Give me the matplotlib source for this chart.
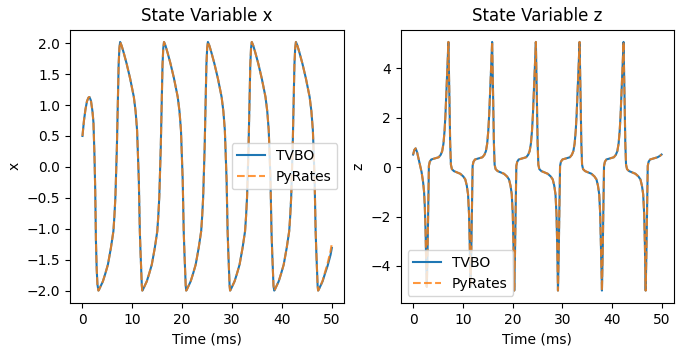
#!/usr/bin/env python3
"""TVBO vs PyRates comparison: state variables x and z over time."""

import matplotlib
matplotlib.use("Agg")
import matplotlib.pyplot as plt

# values
time_x = [
    0.0, 0.3, 0.6, 0.9, 1.2, 1.4, 1.7, 2.0, 2.2, 2.4, 2.55, 2.7, 2.85, 3.0, 3.2,
    3.35, 3.7, 4.1, 4.6, 5.1, 5.7, 6.2, 6.4, 6.6, 6.75, 6.9, 7.1, 7.25, 7.4, 7.55,
    7.85, 8.25, 8.85, 9.55, 10.3, 10.65, 10.95, 11.15, 11.3, 11.5, 11.65, 11.8, 11.9, 12.0,
    12.15, 12.5, 12.9, 13.4, 13.9, 14.5, 15.0, 15.2, 15.4, 15.55, 15.7, 15.9, 16.05, 16.2, 16.35,
    16.65, 17.05, 17.65, 18.35, 19.1, 19.45, 19.75, 19.95, 20.1, 20.3, 20.45, 20.6, 20.7, 20.8,
    20.95, 21.3, 21.7, 22.2, 22.7, 23.3, 23.8, 24.0, 24.2, 24.35, 24.5, 24.7, 24.85, 25.0, 25.15,
    25.45, 25.85, 26.45, 27.15, 27.9, 28.25, 28.55, 28.75, 28.9, 29.1, 29.25, 29.4, 29.5, 29.6,
    29.75, 30.1, 30.5, 31.0, 31.5, 32.1, 32.6, 32.8, 33.0, 33.15, 33.3, 33.5, 33.65, 33.8, 33.95,
    34.25, 34.65, 35.25, 35.95, 36.7, 37.05, 37.35, 37.55, 37.7, 37.9, 38.05, 38.2, 38.3, 38.45,
    38.6, 38.95, 39.35, 39.85, 40.35, 40.95, 41.45, 41.65, 41.85, 42.0, 42.15, 42.35, 42.5, 42.65, 42.8,
    43.1, 43.5, 44.1, 44.8, 45.55, 45.9, 46.2, 46.4, 46.55, 46.75, 46.9, 47.05, 47.15, 47.25,
    47.4, 47.75, 48.15, 48.65, 49.15, 49.75, 50.0,
]
tvbo_x = [
    0.50, 0.75, 0.93, 1.06, 1.12, 1.13, 1.07, 0.90, 0.72, 0.20, -0.35, -1.20, -1.65, -1.90, -2.00,
    -1.98, -1.92, -1.85, -1.72, -1.58, -1.31, -1.04, -0.80, -0.49, -0.10, 0.32, 1.13, 1.65, 1.92, 2.02,
    1.96, 1.85, 1.67, 1.43, 1.13, 0.90, 0.59, 0.15, -0.22, -1.04, -1.40, -1.69, -1.92, -2.00,
    -1.98, -1.92, -1.85, -1.72, -1.58, -1.31, -1.04, -0.80, -0.49, -0.10, 0.32, 1.13, 1.65, 1.92, 2.02,
    1.96, 1.85, 1.67, 1.43, 1.13, 0.90, 0.59, 0.15, -0.22, -1.04, -1.40, -1.69, -1.92, -2.00,
    -1.98, -1.92, -1.85, -1.72, -1.58, -1.31, -1.04, -0.80, -0.49, -0.10, 0.32, 1.13, 1.65, 1.92, 2.02,
    1.96, 1.85, 1.67, 1.43, 1.13, 0.90, 0.59, 0.15, -0.22, -1.04, -1.40, -1.69, -1.92, -2.00,
    -1.98, -1.92, -1.85, -1.72, -1.58, -1.31, -1.04, -0.80, -0.49, -0.10, 0.32, 1.13, 1.65, 1.92, 2.02,
    1.96, 1.85, 1.67, 1.43, 1.13, 0.90, 0.59, 0.15, -0.22, -1.04, -1.40, -1.69, -1.92, -2.00,
    -1.98, -1.92, -1.85, -1.72, -1.58, -1.31, -1.04, -0.80, -0.49, -0.10, 0.32, 1.13, 1.65, 1.92, 2.02,
    1.96, 1.85, 1.67, 1.43, 1.13, 0.90, 0.59, 0.15, -0.22, -1.04, -1.40, -1.69, -1.92, -2.00,
    -1.98, -1.92, -1.85, -1.72, -1.60, -1.42, -1.31,
]
# PyRates trace overlaps TVBO except at the very end
pyrates_x = tvbo_x[:-5] + [-1.84, -1.70, -1.56, -1.36, -1.24]

time_z = [
    0.0, 0.25, 0.5, 0.8, 1.3, 1.7, 2.0, 2.2, 2.35, 2.5, 2.62, 2.75,
    2.9, 3.05, 3.17, 3.35, 3.65, 5.15, 5.55, 5.85, 6.1, 6.32, 6.5, 6.65, 6.8, 6.92, 7.1,
    7.22, 7.32, 7.45, 7.6, 7.8, 8.2, 9.5, 10.1, 10.5, 10.8, 11.05, 11.25, 11.4, 11.55,
    11.7, 11.85, 11.97, 12.15, 12.45, 13.95, 14.35, 14.65, 14.9, 15.12, 15.3, 15.45, 15.6, 15.72, 15.9,
    16.02, 16.12, 16.25, 16.4, 16.6, 17.0, 18.3, 18.9, 19.3, 19.6, 19.85, 20.05, 20.2, 20.35,
    20.5, 20.65, 20.77, 20.95, 21.25, 22.75, 23.15, 23.45, 23.7, 23.92, 24.1, 24.25, 24.4, 24.52, 24.7,
    24.82, 24.92, 25.05, 25.2, 25.4, 25.8, 27.1, 27.7, 28.1, 28.4, 28.65, 28.85, 29.0, 29.15,
    29.3, 29.45, 29.57, 29.75, 30.05, 31.55, 31.95, 32.25, 32.5, 32.72, 32.9, 33.05, 33.2, 33.32, 33.5,
    33.62, 33.72, 33.85, 34.0, 34.2, 34.6, 35.9, 36.5, 36.9, 37.2, 37.45, 37.65, 37.8, 38.0,
    38.15, 38.3, 38.42, 38.6, 38.9, 40.4, 40.8, 41.1, 41.35, 41.57, 41.75, 41.9, 42.05, 42.17, 42.35,
    42.47, 42.57, 42.7, 42.85, 43.05, 43.45, 44.75, 45.35, 45.75, 46.05, 46.3, 46.5, 46.65, 46.8,
    46.95, 47.1, 47.22, 47.4, 47.7, 48.5, 49.2, 49.7, 50.0,
]
tvbo_z = [
    0.51, 0.70, 0.76, 0.60, 0.15, -0.20, -0.60, -1.00, -1.60, -2.60, -3.80, -4.85,
    -3.50, -1.50, 0.05, 0.22, 0.31, 0.40, 0.50, 0.65, 0.95, 1.46, 2.10, 2.81, 3.50, 4.16, 5.07,
    3.80, 2.60, 1.00, 0.10, -0.08, -0.16, -0.27, -0.38, -0.50, -0.75, -1.10, -1.90, -3.20, -4.85,
    -3.50, -1.50, 0.05, 0.22, 0.31, 0.40, 0.50, 0.65, 0.95, 1.46, 2.10, 2.81, 3.50, 4.16, 5.07,
    3.80, 2.60, 1.00, 0.10, -0.08, -0.16, -0.27, -0.38, -0.50, -0.75, -1.10, -1.90, -3.20, -5.00,
    -3.50, -1.50, 0.05, 0.22, 0.31, 0.40, 0.50, 0.65, 0.95, 1.46, 2.10, 2.81, 3.50, 4.16, 5.07,
    3.80, 2.60, 1.00, 0.10, -0.08, -0.16, -0.27, -0.38, -0.50, -0.75, -1.10, -1.90, -3.20, -5.00,
    -3.50, -1.50, 0.05, 0.22, 0.31, 0.40, 0.50, 0.65, 0.95, 1.46, 2.10, 2.81, 3.50, 4.16, 5.07,
    3.80, 2.60, 1.00, 0.10, -0.08, -0.16, -0.27, -0.38, -0.50, -0.75, -1.10, -1.90, -3.20, -5.00,
    -3.50, -1.50, 0.05, 0.22, 0.31, 0.40, 0.50, 0.65, 0.95, 1.46, 2.10, 2.81, 3.50, 4.16, 5.07,
    3.80, 2.60, 1.00, 0.10, -0.08, -0.16, -0.27, -0.38, -0.50, -0.75, -1.10, -1.90, -3.20, -5.00,
    -3.50, -1.50, 0.05, 0.22, 0.31, 0.36, 0.40, 0.46, 0.51,
]
pyrates_z = list(tvbo_z)

series_labels = ["TVBO", "PyRates"]


def main():
    fig = plt.figure(figsize=(6.83, 3.53), dpi=100)
    ax1 = fig.add_axes([0.1025, 0.1416, 0.4016, 0.7748])
    ax2 = fig.add_axes([0.5867, 0.1416, 0.4001, 0.7748])

    ax1.plot(time_x, tvbo_x, color="#1f77b4", lw=1.5, label=series_labels[0])
    ax1.plot(time_x, pyrates_x, color="#ff7f0e", lw=1.5, ls="--", alpha=0.8,
             label=series_labels[1])
    ax1.set_title("State Variable x")
    ax1.set_xlabel("Time (ms)")
    ax1.set_ylabel("x")
    ax1.legend(loc="center right")

    ax2.plot(time_z, tvbo_z, color="#1f77b4", lw=1.5, label=series_labels[0])
    ax2.plot(time_z, pyrates_z, color="#ff7f0e", lw=1.5, ls="--", alpha=0.8,
             label=series_labels[1])
    ax2.set_title("State Variable z")
    ax2.set_xlabel("Time (ms)")
    ax2.set_ylabel("z")
    ax2.legend(loc="lower left")

    fig.savefig("out.png", dpi=100)


if __name__ == "__main__":
    main()
